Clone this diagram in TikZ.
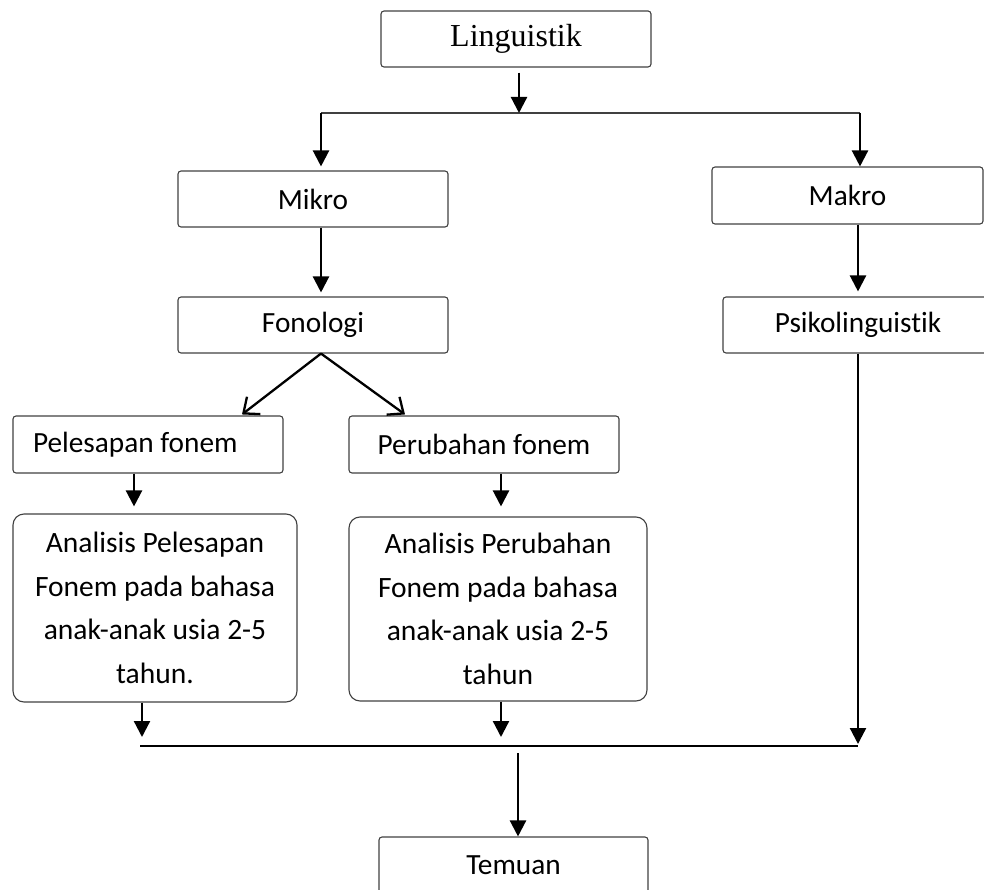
\documentclass[tikz,border=0pt]{standalone}
\usepackage{fontspec}
\setmainfont{Carlito}[RawFeature=-liga]
\newfontfamily\serifface{Liberation Serif}
\usetikzlibrary{arrows.meta}

\begin{document}
\begin{tikzpicture}[x=1pt,y=-1pt,
    box/.style={draw=black!75,line width=1.1pt,rounded corners=3pt,
        minimum width=270pt,minimum height=56pt,inner sep=0pt,
        font=\fontsize{29.3}{34}\selectfont},
    bigbox/.style={draw=black!75,line width=1.1pt,rounded corners=11pt,
        align=center,inner sep=0pt,font=\fontsize{29.5}{43.5}\selectfont},
    arr/.style={line width=2.3pt,-{Triangle[length=16pt,width=16pt]}},
    barb/.style={line width=2.3pt,-{Straight Barb[length=13pt,width=22pt]}}]
    \useasboundingbox (0,0) rectangle (984,890);
    \clip (0,0) rectangle (984,890);

    \node [box,font=\serifface\fontsize{32}{38}\selectfont] (ling) at (516,39) {Linguistik};
    \node [box] (mikro) at (313,199) {Mikro};
    \node [box,minimum width=271pt,minimum height=57pt] (makro) at (847.5,195.5) {Makro};
    \node [box] (fono) at (313,325) {Fonologi};
    \node [box] (psiko) at (858,325) {Psikolinguistik};
    \node [box,minimum height=57pt] (pel) at (148,444.5) {\makebox[230pt][l]{Pelesapan fonem}};
    \node [box,minimum height=57pt] (peru) at (484,444.5) {Perubahan fonem};
    \node [bigbox,minimum width=284pt,minimum height=188pt] (anpel) at (155,608)
        {Analisis Pelesapan\\Fonem pada bahasa\\anak-anak usia 2-5\\tahun.};
    \node [bigbox,minimum width=298pt,minimum height=184pt] (anper) at (498,609)
        {Analisis Perubahan\\Fonem pada bahasa\\anak-anak usia 2-5\\tahun};
    \node [box,minimum width=269pt] (temuan) at (513.5,865) {Temuan};

    % top split
    \coordinate (tl) at (321,113);
    \coordinate (tm) at (519,113);
    \coordinate (tr) at (860,113);
    \draw [black!75,line width=1.4pt] (tl) -- (tr);
    \draw [arr,shorten <=5pt] (ling.south -| tm) -- (tm);
    \draw [arr,shorten >=4pt] (tl) -- (mikro.north -| tl);
    \draw [arr] (tr) -- (makro.north -| tr);

    \draw [arr,shorten >=4pt] (mikro.south -| tl) -- (fono.north -| tl);
    \draw [arr,shorten >=5pt] (makro.south -| psiko.north) -- (psiko.north);

    \draw [barb] (fono.south -| tl) -- ([xshift=94pt,yshift=1pt]pel.north);
    \draw [barb] (fono.south -| tl) -- ([xshift=-79pt,yshift=1pt]peru.north);

    \draw [arr,shorten >=7pt] ([xshift=-14pt]pel.south) -- ([xshift=-14pt]pel.south |- anpel.north);
    \draw [arr,shorten >=10pt] ([xshift=17pt]peru.south) -- ([xshift=17pt]peru.south |- anper.north);

    % bottom join
    \coordinate (bl) at (140,746);
    \coordinate (bm) at (518,746);
    \coordinate (br) at (858,746);
    \draw [line width=2pt] (bl) -- (br);
    \draw [arr,shorten >=9pt] ([xshift=-13pt]anpel.south) -- ([xshift=-13pt]anpel.south |- bl);
    \draw [arr,shorten >=9pt] ([xshift=3pt]anper.south) -- ([xshift=3pt]anper.south |- bl);
    \draw [arr,shorten >=2pt] (psiko.south) -- (br);
    \draw [arr,shorten <=7pt] (bm) -- (temuan.north -| bm);

\end{tikzpicture}
\end{document}
